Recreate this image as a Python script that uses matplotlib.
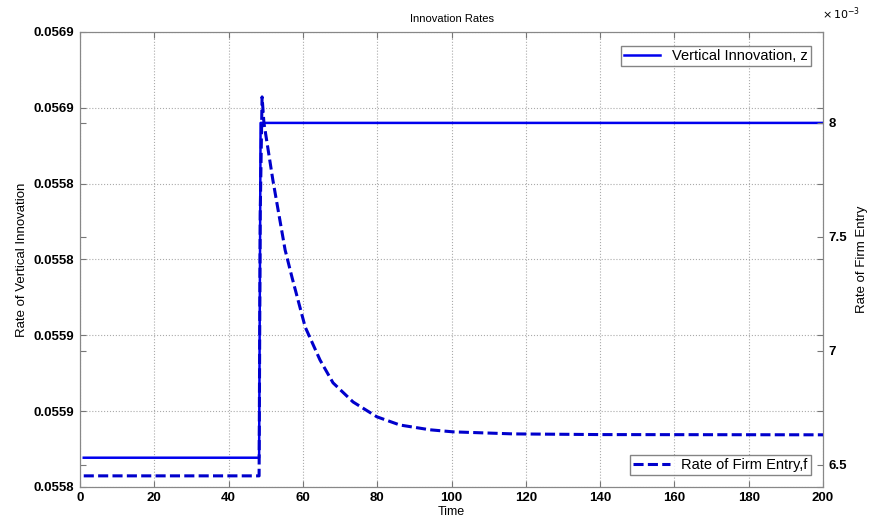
import numpy as np
import matplotlib
matplotlib.use('Agg')
import matplotlib.pyplot as plt
from matplotlib.ticker import FixedLocator, FixedFormatter

plt.rcParams['font.family'] = ['Liberation Sans', 'DejaVu Sans']

# vertical innovation z (left axis)
t_z = [1, 48.2, 48.6, 200]
z = [0.0558077, 0.0558077, 0.055896, 0.055896]

# firm entry f (right axis, x 1e-3)
t_f = [1, 48.2, 48.5, 49.0, 49.5, 51.9, 55.2, 57.1, 60.6, 64.6, 68.1, 73.5,
       79.9, 86.1, 94.2, 100.4, 116.6, 140, 200]
f = [6.452, 6.452, 7.6, 8.114, 8.0, 7.75, 7.443, 7.32, 7.105, 6.96, 6.86, 6.776,
     6.711, 6.675, 6.654, 6.645, 6.636, 6.633, 6.632]

left_ticks = [0.05580 + k * 0.00002 for k in range(7)]
left_labels = ['0.0558', '0.0559', '0.0559', '0.0558', '0.0558', '0.0569', '0.0569']
right_ticks = [6.5, 7, 7.5, 8]
right_labels = ['6.5', '7', '7.5', '8']
x_ticks = list(range(0, 201, 20))

fig = plt.figure(figsize=(8.7, 5.23), dpi=100)
ax1 = fig.add_axes([0.092, 0.069, 0.854, 0.870])
ax2 = ax1.twinx()

ax1.plot(t_z, z, color='#0000ee', lw=1.8, label='Vertical Innovation, z')
ax2.plot(t_f, f, color='#0000cc', lw=2.2, ls=(0, (3.3, 1.4)), label='Rate of Firm Entry,f')

ax1.set_xlim(0, 200)
ax1.set_ylim(left_ticks[0], left_ticks[-1])
ax2.set_ylim(6.4035, 8.399)

ax1.xaxis.set_major_locator(FixedLocator(x_ticks))
ax1.yaxis.set_major_locator(FixedLocator(left_ticks))
ax1.yaxis.set_major_formatter(FixedFormatter(left_labels))
ax2.yaxis.set_major_locator(FixedLocator(right_ticks))
ax2.yaxis.set_major_formatter(FixedFormatter(right_labels))

ax1.grid(True, ls=':', color='#aaaaaa', lw=0.8)
ax1.tick_params(direction='in', length=4, color='#777777', labelsize=9.5,
                top=True, right=True, labelright=False, pad=4)
ax2.tick_params(direction='in', length=4, color='#777777', labelsize=9.5,
                left=True, labelleft=False, pad=4)
for lab in ax1.get_xticklabels() + ax1.get_yticklabels() + ax2.get_yticklabels():
    lab.set_fontweight('bold')
for ax in (ax1, ax2):
    for s in ax.spines.values():
        s.set_color('#888888')

ax1.set_title('Innovation Rates', fontsize=8, pad=7)
ax1.set_xlabel('Time', fontsize=9, labelpad=1)
ax1.set_ylabel('Rate of Vertical Innovation', fontsize=9.5, labelpad=4)
ax2.set_ylabel('Rate of Firm Entry', fontsize=9.5, labelpad=6)
fig.text(0.945, 0.965, r'$\times\,10^{-3}$', fontsize=8)

ax1.legend(loc='upper right', fontsize=10.5, frameon=True, fancybox=False,
           edgecolor='#666666', borderpad=0.2, handlelength=2.5,
           bbox_to_anchor=(0.993, 0.985))
ax2.legend(loc='lower right', fontsize=10.5, frameon=True, fancybox=False,
           edgecolor='#666666', borderpad=0.2, handlelength=2.5,
           bbox_to_anchor=(0.993, 0.01))

fig.savefig('out.png', dpi=100)
